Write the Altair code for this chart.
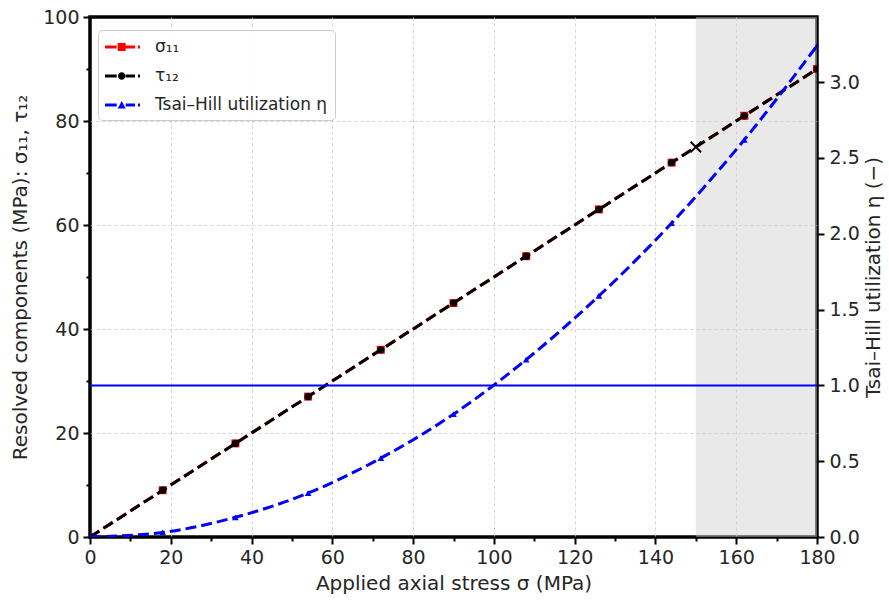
import altair as alt
import pandas as pd

# ---------------- data ----------------
applied_stress = [0, 18, 36, 54, 72, 90, 108, 126, 144, 162, 180]
sigma11 = [0, 9, 18, 27, 36, 45, 54, 63, 72, 81, 90]
tau12 = [0, 9, 18, 27, 36, 45, 54, 63, 72, 81, 90]
eta = [0.0, 0.03, 0.13, 0.29, 0.52, 0.81, 1.17, 1.59, 2.07, 2.62, 3.24]
eta_limit = [1.0]
shade_start = [150]
shade_end = [180]
marker_x = [150]
marker_y = [75]
series_names = ["σ₁₁", "τ₁₂", "Tsai–Hill utilization η"]
series_colors = ["#ff0000", "#000000", "#0000ff"]
x_ticks = list(range(0, 181, 10))
left_ticks = list(range(0, 101, 10))
right_ticks = [0.0, 0.5, 1.0, 1.5, 2.0, 2.5, 3.0]

# ---------------- styles ----------------
FONT = "DejaVu Sans"
TXT = "#262626"
RIGHT_MAX = 3.43
DASH = [11, 5]

dash_l = "M-1,-0.15 H0.17 V0.15 H-1 Z"
dash_r = "M1.07,-0.15 H2.0 V0.15 H1.07 Z"
dot = "M2.3,-0.15 H2.5 V0.15 H2.3 Z"
sym_square = "M0.27,-0.4 H1.07 V0.4 H0.27 Z"
sym_circle = "M0.3,0 A0.37,0.37 0 1,1 1.04,0 A0.37,0.37 0 1,1 0.3,0 Z"
sym_tri = "M0.27,0.35 L0.67,-0.4 L1.07,0.35 Z"
legend_paths = [
    " ".join([dash_l, sym_square, dash_r, dot]),
    " ".join([dash_l, sym_circle, dash_r, dot]),
    " ".join([dash_l, sym_tri, dash_r, dot]),
]

df = pd.DataFrame({"x": applied_stress, "sigma11": sigma11, "tau12": tau12, "eta": eta})
shade_df = pd.DataFrame({"start": shade_start, "end": shade_end})
cross_df = pd.DataFrame({"x": marker_x, "y": marker_y})
limit_df = pd.DataFrame({"eta": eta_limit})
legend_df = pd.DataFrame({"series": series_names})

minor20 = "datum.value % 20 != 0"
common_axis = dict(
    labelFont=FONT, labelFontSize=19, labelColor=TXT,
    titleFont=FONT, titleFontSize=20, titleColor=TXT, titleFontWeight="normal",
    tickColor="black", tickWidth=2, domain=False,
    gridColor="#c8c8c8", gridDash=[3, 3], gridWidth=0.8,
)

x_axis = alt.Axis(
    values=x_ticks,
    labelExpr="datum.value % 20 == 0 ? datum.label : ''",
    tickSize={"condition": {"test": minor20, "value": 4}, "value": 7},
    gridOpacity={"condition": {"test": "datum.value % 20 != 0 || datum.value == 0 || datum.value == 180", "value": 0}, "value": 1},
    labelPadding=4, labelFlush=False, labelOverlap=False, titlePadding=6,
    **common_axis,
)
left_axis = alt.Axis(
    values=left_ticks, orient="left",
    labelExpr="datum.value % 20 == 0 ? datum.label : ''",
    tickSize={"condition": {"test": minor20, "value": 4}, "value": 7},
    gridOpacity={"condition": {"test": "datum.value % 20 != 0 || datum.value == 0 || datum.value == 100", "value": 0}, "value": 1},
    labelPadding=4, labelFlush=False, labelOverlap=False, titlePadding=12,
    **common_axis,
)
right_axis = alt.Axis(
    values=right_ticks, orient="right", format=".1f",
    tickSize=7,
    gridOpacity={"condition": {"test": "datum.value == 0", "value": 0}, "value": 1},
    labelPadding=5, labelFlush=False, labelOverlap=False,
    titleAngle=270, titleBaseline="top", titlePadding=4,
    **common_axis,
)

X_TITLE = "Applied axial stress σ (MPa)"
L_TITLE = "Resolved components (MPa):  σ₁₁, τ₁₂"
R_TITLE = "Tsai–Hill utilization η (−)"


def X(f):
    return alt.X(f"{f}:Q", scale=alt.Scale(domain=[0, 180], nice=False, zero=False), axis=x_axis, title=X_TITLE)


def YL(f):
    return alt.Y(f"{f}:Q", scale=alt.Scale(domain=[0, 100], nice=False), axis=left_axis, title=L_TITLE)


def YR(f):
    return alt.Y(f"{f}:Q", scale=alt.Scale(domain=[0, RIGHT_MAX], nice=False), axis=right_axis, title=R_TITLE)


base = alt.Chart(df)

shade = alt.Chart(shade_df).mark_rect(color="#cfcfcf", opacity=0.45).encode(
    x=X("start"), x2="end"
)
sig_line = base.mark_line(color="#ff0000", strokeWidth=3, strokeDash=DASH, clip=True).encode(
    x=X("x"), y=YL("sigma11")
)
sig_pts = base.mark_point(shape="square", filled=True, color="#ff0000", size=64, opacity=1, clip=True).encode(
    x=X("x"), y=YL("sigma11")
)
tau_line = base.mark_line(color="#000000", strokeWidth=3, strokeDash=DASH, clip=True).encode(
    x=X("x"), y=YL("tau12")
)
tau_pts = base.mark_point(shape="circle", filled=True, color="#000000", size=52, opacity=1, clip=True).encode(
    x=X("x"), y=YL("tau12")
)
cross = alt.Chart(cross_df).mark_point(
    shape="M-1,-1L1,1M-1,1L1,-1", filled=False, stroke="black", strokeWidth=1.8, size=110, opacity=1
).encode(x=X("x"), y=YL("y"))

leg = alt.Legend(
    title=None, orient="none", legendX=8, legendY=13,
    labelFont=FONT, labelFontSize=17, labelColor=TXT, labelLimit=0,
    symbolSize=400, symbolStrokeWidth=0, labelOffset=30,
    rowPadding=11, padding=7,
    strokeColor="#cccccc", fillColor="rgba(255,255,255,0.85)", cornerRadius=4,
)
legend_layer = alt.Chart(legend_df).transform_filter("false").mark_point(filled=True, opacity=1).encode(
    color=alt.Color("series:N", scale=alt.Scale(domain=series_names, range=series_colors), legend=leg),
    shape=alt.Shape("series:N", scale=alt.Scale(domain=series_names, range=legend_paths), legend=leg),
)

eta_line = base.mark_line(color="#0000ff", strokeWidth=3, strokeDash=DASH, interpolate="monotone", clip=True).encode(
    x=X("x"), y=YR("eta")
)
eta_pts = base.mark_point(shape="triangle-up", filled=True, color="#0000ff", size=45, opacity=1, clip=True).encode(
    x=X("x"), y=YR("eta")
)
limit = alt.Chart(limit_df).mark_rule(color="#0000ff", strokeWidth=2).encode(y=YR("eta"))

left_group = alt.layer(shade, sig_line, sig_pts, tau_line, tau_pts, cross, legend_layer)
right_group = alt.layer(limit, eta_line, eta_pts)

chart = alt.layer(left_group, right_group).resolve_scale(y="independent").properties(
    width=727, height=520,
    padding={"left": 90, "top": 17, "right": 72, "bottom": 69},
    autosize=alt.AutoSizeParams(type="none"),
    background="white",
).configure_view(stroke="black", strokeWidth=3.5)

chart.save("out.html", embed_options={"renderer": "svg", "actions": False})
